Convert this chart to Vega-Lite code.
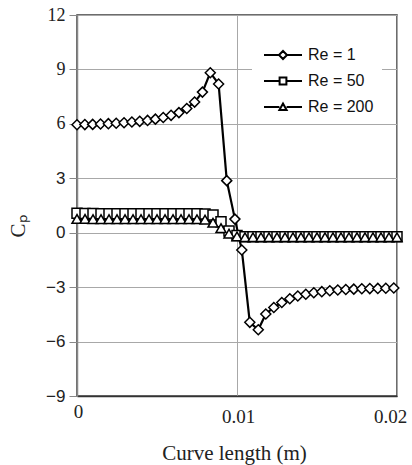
{
 "$schema": "https://vega.github.io/schema/vega-lite/v6.json",
 "width": 320, "height": 381,
 "autosize": {"type": "none"},
 "padding": {"left": 77, "top": 15, "right": 15, "bottom": 69},
 "background": "white",
 "config": {
   "view": {"stroke": "#3c3c3c", "strokeWidth": 1.5},
   "axis": {"gridColor": "#a8a8a8", "gridWidth": 1}
 },
 "data": {"values": [
  {"s":"Re = 1","x":0,"cp":5.95},{"s":"Re = 1","x":0.00049,"cp":5.96},{"s":"Re = 1","x":0.00098,"cp":5.97},{"s":"Re = 1","x":0.00147,"cp":5.99},{"s":"Re = 1","x":0.00196,"cp":6.01},{"s":"Re = 1","x":0.00245,"cp":6.03},{"s":"Re = 1","x":0.00294,"cp":6.06},{"s":"Re = 1","x":0.00343,"cp":6.1},{"s":"Re = 1","x":0.00392,"cp":6.14},{"s":"Re = 1","x":0.00441,"cp":6.19},{"s":"Re = 1","x":0.0049,"cp":6.26},{"s":"Re = 1","x":0.00539,"cp":6.35},{"s":"Re = 1","x":0.00588,"cp":6.47},{"s":"Re = 1","x":0.00637,"cp":6.62},{"s":"Re = 1","x":0.00686,"cp":6.85},{"s":"Re = 1","x":0.00735,"cp":7.2},{"s":"Re = 1","x":0.00784,"cp":7.75},{"s":"Re = 1","x":0.00833,"cp":8.82},{"s":"Re = 1","x":0.00885,"cp":8.2},{"s":"Re = 1","x":0.00936,"cp":2.87},{"s":"Re = 1","x":0.00987,"cp":0.75},{"s":"Re = 1","x":0.0103,"cp":-0.95},{"s":"Re = 1","x":0.0108,"cp":-4.94},{"s":"Re = 1","x":0.01133,"cp":-5.35},{"s":"Re = 1","x":0.0118,"cp":-4.48},{"s":"Re = 1","x":0.0123,"cp":-4.12},{"s":"Re = 1","x":0.0128,"cp":-3.85},{"s":"Re = 1","x":0.0133,"cp":-3.64},{"s":"Re = 1","x":0.0138,"cp":-3.49},{"s":"Re = 1","x":0.0143,"cp":-3.39},{"s":"Re = 1","x":0.0148,"cp":-3.31},{"s":"Re = 1","x":0.0153,"cp":-3.25},{"s":"Re = 1","x":0.0158,"cp":-3.2},{"s":"Re = 1","x":0.0163,"cp":-3.16},{"s":"Re = 1","x":0.0168,"cp":-3.13},{"s":"Re = 1","x":0.0173,"cp":-3.11},{"s":"Re = 1","x":0.0178,"cp":-3.09},{"s":"Re = 1","x":0.0183,"cp":-3.08},{"s":"Re = 1","x":0.0188,"cp":-3.07},{"s":"Re = 1","x":0.0193,"cp":-3.06},{"s":"Re = 1","x":0.0198,"cp":-3.05},
  {"s":"Re = 50","x":0,"cp":1.07},{"s":"Re = 50","x":0.0005,"cp":1.06},{"s":"Re = 50","x":0.001,"cp":1.06},{"s":"Re = 50","x":0.0015,"cp":1.05},{"s":"Re = 50","x":0.002,"cp":1.05},{"s":"Re = 50","x":0.0025,"cp":1.05},{"s":"Re = 50","x":0.003,"cp":1.05},{"s":"Re = 50","x":0.0035,"cp":1.05},{"s":"Re = 50","x":0.004,"cp":1.05},{"s":"Re = 50","x":0.0045,"cp":1.05},{"s":"Re = 50","x":0.005,"cp":1.05},{"s":"Re = 50","x":0.0055,"cp":1.05},{"s":"Re = 50","x":0.006,"cp":1.05},{"s":"Re = 50","x":0.0065,"cp":1.05},{"s":"Re = 50","x":0.007,"cp":1.05},{"s":"Re = 50","x":0.0075,"cp":1.04},{"s":"Re = 50","x":0.008,"cp":1.03},{"s":"Re = 50","x":0.0085,"cp":0.98},{"s":"Re = 50","x":0.009,"cp":0.6},{"s":"Re = 50","x":0.0095,"cp":0.1},{"s":"Re = 50","x":0.01,"cp":-0.15},{"s":"Re = 50","x":0.0105,"cp":-0.22},{"s":"Re = 50","x":0.011,"cp":-0.22},{"s":"Re = 50","x":0.0115,"cp":-0.22},{"s":"Re = 50","x":0.012,"cp":-0.22},{"s":"Re = 50","x":0.0125,"cp":-0.22},{"s":"Re = 50","x":0.013,"cp":-0.22},{"s":"Re = 50","x":0.0135,"cp":-0.22},{"s":"Re = 50","x":0.014,"cp":-0.22},{"s":"Re = 50","x":0.0145,"cp":-0.22},{"s":"Re = 50","x":0.015,"cp":-0.22},{"s":"Re = 50","x":0.0155,"cp":-0.22},{"s":"Re = 50","x":0.016,"cp":-0.22},{"s":"Re = 50","x":0.0165,"cp":-0.22},{"s":"Re = 50","x":0.017,"cp":-0.22},{"s":"Re = 50","x":0.0175,"cp":-0.22},{"s":"Re = 50","x":0.018,"cp":-0.22},{"s":"Re = 50","x":0.0185,"cp":-0.22},{"s":"Re = 50","x":0.019,"cp":-0.22},{"s":"Re = 50","x":0.0195,"cp":-0.22},{"s":"Re = 50","x":0.02,"cp":-0.22},
  {"s":"Re = 200","x":0,"cp":0.76},{"s":"Re = 200","x":0.0005,"cp":0.76},{"s":"Re = 200","x":0.001,"cp":0.75},{"s":"Re = 200","x":0.0015,"cp":0.75},{"s":"Re = 200","x":0.002,"cp":0.75},{"s":"Re = 200","x":0.0025,"cp":0.75},{"s":"Re = 200","x":0.003,"cp":0.75},{"s":"Re = 200","x":0.0035,"cp":0.75},{"s":"Re = 200","x":0.004,"cp":0.75},{"s":"Re = 200","x":0.0045,"cp":0.75},{"s":"Re = 200","x":0.005,"cp":0.75},{"s":"Re = 200","x":0.0055,"cp":0.75},{"s":"Re = 200","x":0.006,"cp":0.75},{"s":"Re = 200","x":0.0065,"cp":0.75},{"s":"Re = 200","x":0.007,"cp":0.75},{"s":"Re = 200","x":0.0075,"cp":0.74},{"s":"Re = 200","x":0.008,"cp":0.72},{"s":"Re = 200","x":0.0085,"cp":0.55},{"s":"Re = 200","x":0.009,"cp":0.25},{"s":"Re = 200","x":0.0095,"cp":-0.05},{"s":"Re = 200","x":0.01,"cp":-0.2},{"s":"Re = 200","x":0.0105,"cp":-0.25},{"s":"Re = 200","x":0.011,"cp":-0.25},{"s":"Re = 200","x":0.0115,"cp":-0.25},{"s":"Re = 200","x":0.012,"cp":-0.25},{"s":"Re = 200","x":0.0125,"cp":-0.25},{"s":"Re = 200","x":0.013,"cp":-0.25},{"s":"Re = 200","x":0.0135,"cp":-0.25},{"s":"Re = 200","x":0.014,"cp":-0.25},{"s":"Re = 200","x":0.0145,"cp":-0.25},{"s":"Re = 200","x":0.015,"cp":-0.25},{"s":"Re = 200","x":0.0155,"cp":-0.25},{"s":"Re = 200","x":0.016,"cp":-0.25},{"s":"Re = 200","x":0.0165,"cp":-0.25},{"s":"Re = 200","x":0.017,"cp":-0.25},{"s":"Re = 200","x":0.0175,"cp":-0.25},{"s":"Re = 200","x":0.018,"cp":-0.25},{"s":"Re = 200","x":0.0185,"cp":-0.25},{"s":"Re = 200","x":0.019,"cp":-0.25},{"s":"Re = 200","x":0.0195,"cp":-0.25},{"s":"Re = 200","x":0.02,"cp":-0.25}
 ]},
 "encoding": {
   "x": {"field": "x", "type": "quantitative",
     "scale": {"domain": [0, 0.02], "nice": false, "zero": false},
     "axis": {"values": [0, 0.01, 0.02], "format": ".2~f", "grid": true, "ticks": false,
       "labelPadding": {"condition": {"test": "datum.value == 0", "value": 6}, "value": 11},
       "labelOffset": {"condition": {"test": "datum.value > 0.015", "value": -7}, "value": 1},
       "labelFont": "Liberation Serif", "labelFontSize": 19, "labelColor": "#222", "labelFlush": false,
       "domain": true, "domainColor": "#333", "domainWidth": 1.5,
       "title": "Curve length (m)", "titleFont": "Liberation Serif", "titleFontSize": 21, "titleFontWeight": "normal",
       "titleColor": "#222", "titleX": 157, "titleY": 57, "titleBaseline": "middle", "titleAlign": "center"}},
   "y": {"field": "cp", "type": "quantitative",
     "scale": {"domain": [-9, 12], "nice": false, "zero": false},
     "axis": {"values": [-9, -6, -3, 0, 3, 6, 9, 12], "grid": true, "tickSize": 8, "tickColor": "#888", "labelPadding": 4,
       "labelFont": {"condition": {"test": "datum.value > 4", "value": "Liberation Serif"}, "value": "Liberation Sans"},
       "labelFontSize": {"condition": {"test": "datum.value > 4", "value": 18}, "value": 17},
       "labelColor": "#222", "labelFlush": false,
       "domain": true, "domainColor": "#888", "domainWidth": 1.5,
       "title": "Cₚ", "titleFont": "Liberation Serif", "titleFontSize": 21, "titleFontWeight": "normal", "titleColor": "#222",
       "titleAngle": 270, "titleX": -59, "titleY": 211, "titleAlign": "center", "titleBaseline": "middle"}}
 },
 "layer": [
  {"mark": {"type": "line", "color": "black", "strokeWidth": 2.2},
   "encoding": {"detail": {"field": "s", "type": "nominal"}}},
  {"mark": {"type": "point", "filled": true, "fill": "white", "stroke": "black", "strokeWidth": 1.5, "size": 100, "opacity": 1},
   "encoding": {"shape": {"field": "s", "type": "nominal",
     "scale": {"domain": ["Re = 1", "Re = 50", "Re = 200"], "range": ["diamond", "square", "triangle-up"]}, "legend": null}}},
  {"mark": {"type": "point", "filled": false, "stroke": "black", "strokeWidth": 2, "opacity": 0},
   "encoding": {"shape": {"field": "s", "type": "nominal",
     "scale": {"domain": ["Re = 1", "Re = 50", "Re = 200"],
       "range": ["M-4.75,0L-1,0M1,0L4.75,0M-1,0L0,-1L1,0L0,1Z", "M-4.75,0L-0.85,0M0.85,0L4.75,0M-0.85,-0.85L0.85,-0.85L0.85,0.85L-0.85,0.85Z", "M-4.75,0L-0.9,0M0.9,0L4.75,0M-0.9,0.75L0,-0.85L0.9,0.75Z"]},
     "legend": {"title": null, "orient": "none", "legendX": 175, "legendY": 24, "fillColor": "white", "padding": 8,
       "symbolSize": 64, "symbolOpacity": 1, "symbolStrokeColor": "black", "symbolStrokeWidth": 2,
       "symbolOffset": 15, "labelOffset": 17, "labelFont": "Liberation Sans", "labelFontSize": 16, "labelColor": "#111",
       "rowPadding": 10}}}}
 ],
 "resolve": {"scale": {"shape": "independent"}}
}
